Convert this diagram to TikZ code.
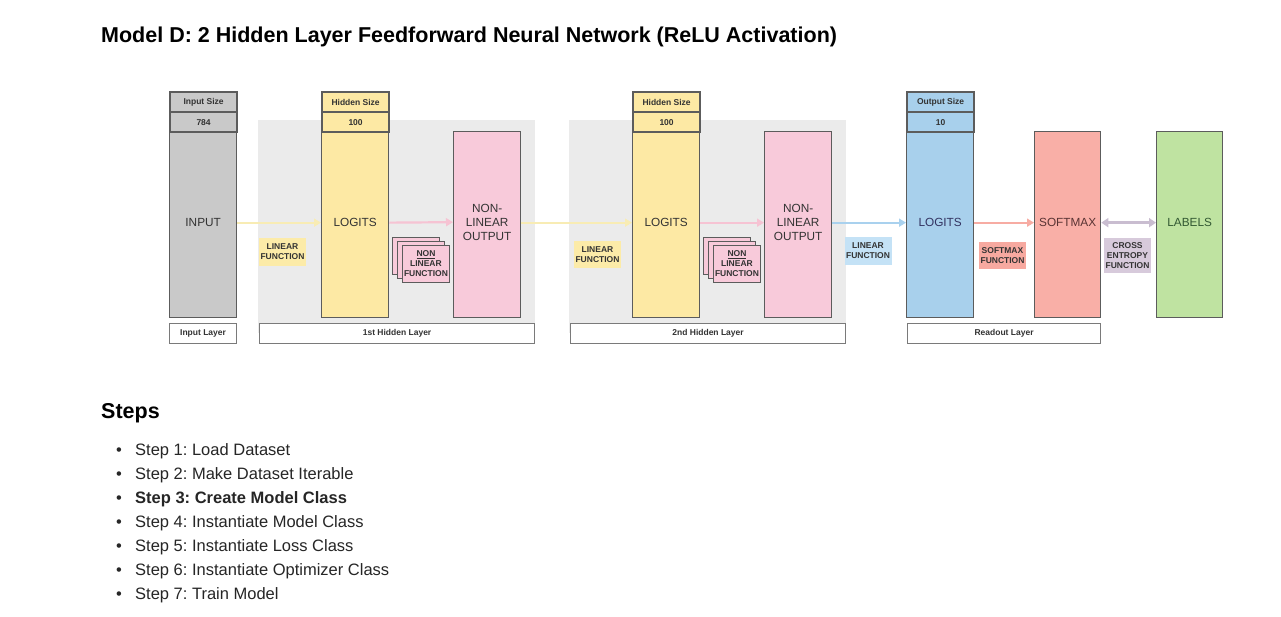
\documentclass[tikz,border=0pt]{standalone}
\usepackage{fontspec}
\setmainfont{Liberation Sans}
\usetikzlibrary{arrows.meta}
\frenchspacing
\definecolor{bord}{HTML}{5C5C5C}
\definecolor{lblbord}{HTML}{7A7A7A}
\definecolor{bggray}{HTML}{EBEBEB}
\definecolor{colgray}{HTML}{C9C9C9}
\definecolor{colyellow}{HTML}{FDE9A4}
\definecolor{colpink}{HTML}{F8CADA}
\definecolor{colblue}{HTML}{A8D0EC}
\definecolor{colsalmon}{HTML}{F9AFA7}
\definecolor{colgreen}{HTML}{BFE3A1}
\definecolor{fyellow}{HTML}{FCEBA8}
\definecolor{fblue}{HTML}{C4E2F6}
\definecolor{fsalmon}{HTML}{F7A9A0}
\definecolor{flav}{HTML}{D7CADB}
\definecolor{ayellow}{HTML}{F8ECB4}
\definecolor{apink}{HTML}{F6C3D3}
\definecolor{ablue}{HTML}{A9D1EE}
\definecolor{asalmon}{HTML}{F7ACA3}
\definecolor{alav}{HTML}{C9BDD0}
\definecolor{txt}{HTML}{333333}
\begin{document}
\frenchspacing
\begin{tikzpicture}[x=1pt,y=-1pt,
  col/.style={draw=bord, line width=1.3pt, anchor=north west, inner sep=0pt,
    align=center, text=txt, text depth=5pt, font=\fontsize{11.8}{14}\selectfont},
  hdr/.style={draw=bord, line width=2.2pt, anchor=north west, inner sep=0pt,
    minimum width=67, minimum height=20, text=txt, font=\bfseries\fontsize{8.5}{10}\selectfont},
  layerlbl/.style={draw=lblbord, line width=1.1pt, fill=white, anchor=north west, inner sep=0pt,
    minimum height=20, text=txt, font=\bfseries\fontsize{8.5}{10}\selectfont},
  fnlbl/.style={inner sep=0pt, minimum width=47, align=center, text=txt,
    font=\bfseries\fontsize{8.5}{10}\selectfont},
  card/.style={draw=bord, line width=0.9pt, fill=colpink, anchor=north west, inner sep=0pt,
    minimum width=47, minimum height=37, align=center, text=txt,
    font=\bfseries\fontsize{8.5}{10}\selectfont},
  conn/.style={line width=2.2pt, -{Triangle[length=7pt,width=8pt]}},
  stepitem/.style={anchor=base west, inner sep=0pt, text=black!85, font=\fontsize{16.5}{20}\selectfont}
]
\useasboundingbox[fill=white] (0,0) rectangle (1281,616);

% title
\node[anchor=base west, inner sep=0pt, font=\bfseries\fontsize{21.5}{26}\selectfont] (title) at (101,42)
  {Model D: 2 Hidden Layer Feedforward Neural Network (ReLU Activation)};

% gray backgrounds
\fill[bggray] (258,120) rectangle (535,333);
\fill[bggray] (569,120) rectangle (846,333);

% input column
\node[hdr, fill=colgray] (h1a) at (169,91) {Input Size};
\node[hdr, fill=colgray] (h1b) at (169,111) {784};
\node[col, fill=colgray, minimum width=67, minimum height=185] (inp) at (169,132) {INPUT};

% hidden layer 1
\node[hdr, fill=colyellow] (h2a) at (321,91) {Hidden Size};
\node[hdr, fill=colyellow] (h2b) at (321,111) {100};
\node[col, fill=colyellow, minimum width=67, minimum height=185] (log1) at (321,132) {LOGITS};
\node[col, fill=colpink, minimum width=67, minimum height=186] (nl1) at (453,131) {NON-\\LINEAR\\OUTPUT};

% hidden layer 2
\node[hdr, fill=colyellow] (h3a) at (632,91) {Hidden Size};
\node[hdr, fill=colyellow] (h3b) at (632,111) {100};
\node[col, fill=colyellow, minimum width=67, minimum height=185] (log2) at (632,132) {LOGITS};
\node[col, fill=colpink, minimum width=67, minimum height=186] (nl2) at (764,131) {NON-\\LINEAR\\OUTPUT};

% readout
\node[hdr, fill=colblue] (h4a) at (906,91) {Output Size};
\node[hdr, fill=colblue] (h4b) at (906,111) {10};
\node[col, fill=colblue, minimum width=67, minimum height=185, text=black!70!blue!60!gray] (log3) at (906,132) {LOGITS};
\node[col, fill=colsalmon, minimum width=66, minimum height=186, text=black!75!red!60!gray] (smx) at (1034,131) {SOFTMAX};
\node[col, fill=colgreen, minimum width=66, minimum height=186, text=black!75!green!60!gray] (lab) at (1156,131) {LABELS};

% layer labels
\node[layerlbl, minimum width=67] (l1) at (169,323) {Input Layer};
\node[layerlbl, minimum width=275] (l2) at (259,323) {1st Hidden Layer};
\node[layerlbl, minimum width=275] (l3) at (570,323) {2nd Hidden Layer};
\node[layerlbl, minimum width=193] (l4) at (907,323) {Readout Layer};

% connectors
\draw[conn, ayellow] ([yshift=2.5pt]inp.east) -- ([yshift=2.5pt]log1.west);
\draw[conn, apink] ([yshift=2.5pt]log1.east) -- ([yshift=2.5pt]nl1.west);
\draw[conn, ayellow] ([yshift=2pt]nl1.east) -- ([yshift=2.5pt]log2.west);
\draw[conn, apink] ([yshift=2.5pt]log2.east) -- ([yshift=2pt]nl2.west);
\draw[conn, ablue] ([yshift=2pt]nl2.east) -- ([yshift=2.5pt]log3.west);
\draw[conn, asalmon] ([yshift=2.5pt]log3.east) -- ([yshift=2pt]smx.west);
\draw[line width=2.6pt, alav, {Triangle[length=7pt,width=9pt]}-{Triangle[length=7pt,width=9pt]}]
  ([yshift=2pt]smx.east) -- ([yshift=2pt]lab.west);

% function labels
\node[fnlbl, fill=fyellow, minimum height=28] (lf1) at (282.5,252) {LINEAR\\FUNCTION};
\node[fnlbl, fill=fyellow, minimum height=27] (lf2) at (597.5,254.5) {LINEAR\\FUNCTION};
\node[fnlbl, fill=fblue, minimum height=28] (lf3) at (868,251) {LINEAR\\FUNCTION};
\node[fnlbl, fill=fsalmon, minimum height=27] (sf) at (1002.5,255.5) {SOFTMAX\\FUNCTION};
\node[fnlbl, fill=flav, minimum height=35] (ce) at (1127.5,255.5) {CROSS\\ENTROPY\\FUNCTION};

% non-linear function cards
\node[card] (c1a) at (392,237) {};
\node[card] (c1b) at (397,241) {};
\node[card] (c1c) at (402,245) {\underline{NON}\\LINEAR\\FUNCTION};
\node[card] (c2a) at (703,237) {};
\node[card] (c2b) at (708,241) {};
\node[card] (c2c) at (713,245) {\underline{NON}\\LINEAR\\FUNCTION};

% steps
\node[anchor=base west, inner sep=0pt, font=\bfseries\fontsize{21.5}{26}\selectfont] (steps) at (101,418) {Steps};
\foreach \i/\t [count=\k] in {455/Step 1: Load Dataset, 479/Step 2: Make Dataset Iterable,
   503/{\bfseries Step 3: Create Model Class}, 527/Step 4: Instantiate Model Class,
   551/Step 5: Instantiate Loss Class, 575/Step 6: Instantiate Optimizer Class,
   599/Step 7: Train Model} {
  \node[stepitem] (b\k) at (116,\i) {•};
  \node[stepitem] (s\k) at (135,\i) {\t};
}
\end{tikzpicture}
\end{document}
